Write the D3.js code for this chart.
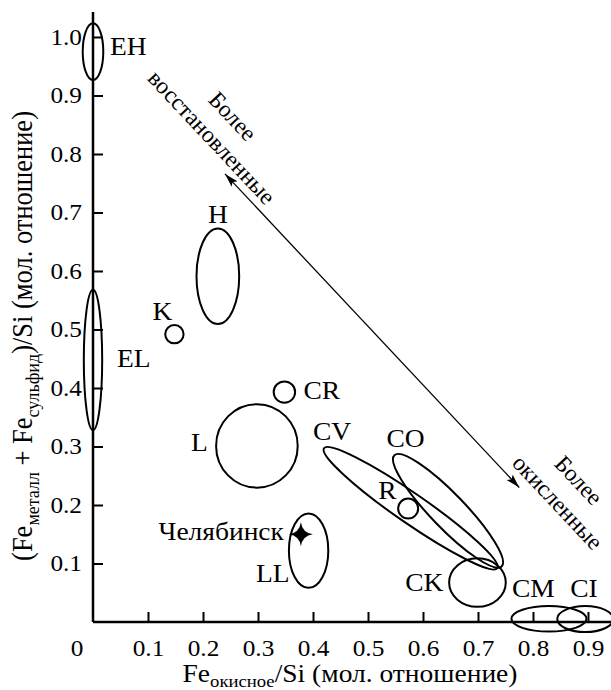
<!DOCTYPE html>
<html>
<head>
<meta charset="utf-8">
<script src="https://cdn.jsdelivr.net/npm/d3@7"></script>
<style>
  body { margin: 0; background: #fff; }
</style>
</head>
<body>
<div id="chart"></div>
<script>
// chondrite groups: centre and half-spread (mol. ratios)
const ovalNames = ["EH", "EL", "K", "H", "CR", "L", "R", "LL", "CK", "CM", "CI"];
const ovalFeOx  = [0.0, 0.0, 0.148, 0.227, 0.348, 0.298, 0.573, 0.392, 0.699, 0.829, 0.895];
const ovalFeRed = [0.975, 0.448, 0.492, 0.591, 0.393, 0.301, 0.194, 0.122, 0.0675, 0.0055, 0.005];
const ovalDx    = [0.0187, 0.0167, 0.0167, 0.0388, 0.0195, 0.0742, 0.0182, 0.0358, 0.0515, 0.0682, 0.0509];
const ovalDy    = [0.0484, 0.120, 0.0157, 0.0817, 0.0183, 0.0713, 0.0171, 0.0636, 0.0414, 0.0219, 0.0222];

// elongated groups: ends of the long axis and half-width (in Fe_ox units)
const bandNames = ["CV", "CO"];
const bandX0 = [0.420, 0.548];
const bandY0 = [0.297, 0.285];
const bandX1 = [0.735, 0.743];
const bandY1 = [0.092, 0.095];
const bandHalf = [0.027, 0.031];

// Chelyabinsk meteorite
const chelName = "Челябинск";
const chelFeOx = 0.378;
const chelFeRed = 0.150;

// redox trend arrow
const arrowFrom = [0.240, 0.766];
const arrowTo = [0.775, 0.230];

const xTicks = [0.1, 0.2, 0.3, 0.4, 0.5, 0.6, 0.7, 0.8, 0.9];
const yTicks = [0.1, 0.2, 0.3, 0.4, 0.5, 0.6, 0.7, 0.8, 0.9, 1.0];

const width = 611, height = 690;
const serif = "Liberation Serif";
const k = 1.1; // the printed figure is a bit wider than tall, type included

const svg = d3.select("#chart").append("svg")
    .attr("width", width)
    .attr("height", height)
    .attr("font-family", serif);

const x = d3.scaleLinear().domain([0, 1]).range([93, 643]);
const y = d3.scaleLinear().domain([0, 1]).range([622, 37]);

function at(px, py) {
    return "translate(" + px + "," + py + ") scale(" + k + ",1)";
}

// label placement, px offsets from the mark centre
const labelAt = {
    EH: [17, 3, "start"], EL: [24, 7, "start"], K: [-22, -14, "start"],
    H: [0, -53, "middle"], CR: [19, 7, "start"], L: [-49, 5, "end"],
    R: [-30, -10, "start"], LL: [-19, 31, "end"], CK: [-34, 8, "end"],
    CM: [-37, -22, "start"], CI: [-15, -22, "start"],
    CV: [-11, -8, "start"], CO: [-8, -8, "start"]
};

// axes
const xAxis = svg.append("g")
    .attr("transform", "translate(0," + y(0) + ")")
    .call(d3.axisBottom(x).tickValues(xTicks).tickSizeInner(-10).tickSizeOuter(0).tickFormat(d3.format(".1f")))
    .attr("font-family", serif);
xAxis.select(".domain").attr("d", "M" + x(0) + ",0H" + (width + 5)).attr("stroke-width", 2.5);
xAxis.selectAll(".tick line").attr("stroke-width", 2);
xAxis.selectAll(".tick text")
    .attr("y", 18).attr("dy", "0.71em")
    .attr("font-size", 23)
    .attr("transform", "scale(" + k + ",1)");

const yAxis = svg.append("g")
    .attr("transform", "translate(" + x(0) + ",0)")
    .call(d3.axisLeft(y).tickValues(yTicks).tickSizeInner(-10).tickSizeOuter(0).tickFormat(d3.format(".1f")))
    .attr("font-family", serif);
yAxis.select(".domain").attr("d", "M0," + y(0) + "V12").attr("stroke-width", 2.5);
yAxis.selectAll(".tick line").attr("stroke-width", 2);
yAxis.selectAll(".tick text")
    .attr("x", -11 / k)
    .attr("font-size", 23)
    .attr("transform", "scale(" + k + ",1)");

svg.append("text")
    .attr("transform", at(77, 656))
    .attr("text-anchor", "middle")
    .attr("font-size", 23)
    .text("0");

// axis titles
const xt = svg.append("text")
    .attr("transform", at(350, 682))
    .attr("text-anchor", "middle")
    .attr("font-size", 25);
xt.append("tspan").text("Fe");
xt.append("tspan").attr("font-size", 17).attr("dy", 5).text("окисное");
xt.append("tspan").attr("dy", -5).text("/Si (мол. отношение)");

const yt = svg.append("text")
    .attr("transform", at(32, 336) + " rotate(-90)")
    .attr("text-anchor", "middle")
    .attr("font-size", 26.5);
yt.append("tspan").text("(Fe");
yt.append("tspan").attr("font-size", 18).attr("dy", 6).text("металл");
yt.append("tspan").attr("dy", -6).text(" + Fe");
yt.append("tspan").attr("font-size", 18).attr("dy", 6).text("сульфид");
yt.append("tspan").attr("dy", -6).text(")/Si (мол. отношение)");

// ovals
const ovals = ovalNames.map((n, i) => ({
    name: n, cx: ovalFeOx[i], cy: ovalFeRed[i], dx: ovalDx[i], dy: ovalDy[i]
}));

svg.selectAll("ellipse.oval")
    .data(ovals)
    .enter().append("ellipse")
    .attr("class", "oval")
    .attr("cx", d => x(d.cx))
    .attr("cy", d => y(d.cy))
    .attr("rx", d => x(d.dx) - x(0))
    .attr("ry", d => y(0) - y(d.dy))
    .attr("fill", "none")
    .attr("stroke", "#000")
    .attr("stroke-width", 2);

svg.selectAll("text.oval-label")
    .data(ovals)
    .enter().append("text")
    .attr("class", "oval-label")
    .attr("transform", d => at(x(d.cx) + labelAt[d.name][0], y(d.cy) + labelAt[d.name][1]))
    .attr("text-anchor", d => labelAt[d.name][2])
    .attr("font-size", 25)
    .text(d => d.name);

// elongated bands
const bands = bandNames.map((n, i) => {
    const x0 = x(bandX0[i]), y0 = y(bandY0[i]), x1 = x(bandX1[i]), y1 = y(bandY1[i]);
    return {
        name: n, x0: x0, y0: y0,
        cx: (x0 + x1) / 2, cy: (y0 + y1) / 2,
        rx: Math.hypot(x1 - x0, y1 - y0) / 2,
        ry: x(bandHalf[i]) - x(0),
        angle: Math.atan2(y1 - y0, x1 - x0) * 180 / Math.PI
    };
});

svg.selectAll("ellipse.band")
    .data(bands)
    .enter().append("ellipse")
    .attr("class", "band")
    .attr("transform", d => "translate(" + d.cx + "," + d.cy + ") rotate(" + d.angle + ")")
    .attr("rx", d => d.rx)
    .attr("ry", d => d.ry)
    .attr("fill", "none")
    .attr("stroke", "#000")
    .attr("stroke-width", 2);

svg.selectAll("text.band-label")
    .data(bands)
    .enter().append("text")
    .attr("class", "band-label")
    .attr("transform", d => at(d.x0 + labelAt[d.name][0], d.y0 + labelAt[d.name][1]))
    .attr("font-size", 25)
    .text(d => d.name);

// Chelyabinsk star
const star = "M0,-12 Q1.5,-1.5 12,0 Q1.5,1.5 0,12 Q-1.5,1.5 -12,0 Q-1.5,-1.5 0,-12Z";
svg.append("path")
    .attr("d", star)
    .attr("transform", "translate(" + x(chelFeOx) + "," + y(chelFeRed) + ")")
    .attr("fill", "#000");
svg.append("text")
    .attr("transform", at(x(chelFeOx) - 17, y(chelFeRed) + 6))
    .attr("text-anchor", "end")
    .attr("font-size", 25)
    .text(chelName);

// trend arrow
const defs = svg.append("defs");
defs.append("marker")
    .attr("id", "head")
    .attr("viewBox", "0 0 14 8")
    .attr("refX", 14).attr("refY", 4)
    .attr("markerWidth", 14).attr("markerHeight", 8)
    .attr("markerUnits", "userSpaceOnUse")
    .attr("orient", "auto-start-reverse")
    .append("path")
    .attr("d", "M0,0 L14,4 L0,8 L3,4 Z")
    .attr("fill", "#000");

svg.append("line")
    .attr("x1", x(arrowFrom[0])).attr("y1", y(arrowFrom[1]))
    .attr("x2", x(arrowTo[0])).attr("y2", y(arrowTo[1]))
    .attr("stroke", "#000")
    .attr("stroke-width", 1.3)
    .attr("marker-start", "url(#head)")
    .attr("marker-end", "url(#head)");

const tilt = Math.atan2(y(arrowTo[1]) - y(arrowFrom[1]), x(arrowTo[0]) - x(arrowFrom[0])) * 180 / Math.PI;
const notes = [
    {t: "Более", px: 233, py: 116},
    {t: "восстановленные", px: 212, py: 137},
    {t: "Более", px: 579, py: 480},
    {t: "окисленные", px: 558, py: 502}
];
svg.selectAll("text.note")
    .data(notes)
    .enter().append("text")
    .attr("class", "note")
    .attr("transform", d => "translate(" + d.px + "," + d.py + ") rotate(" + tilt + ")")
    .attr("text-anchor", "middle")
    .attr("dy", "0.35em")
    .attr("font-size", 23.5)
    .text(d => d.t);

svg.selectAll("text").attr("fill", "#000");
</script>
</body>
</html>
